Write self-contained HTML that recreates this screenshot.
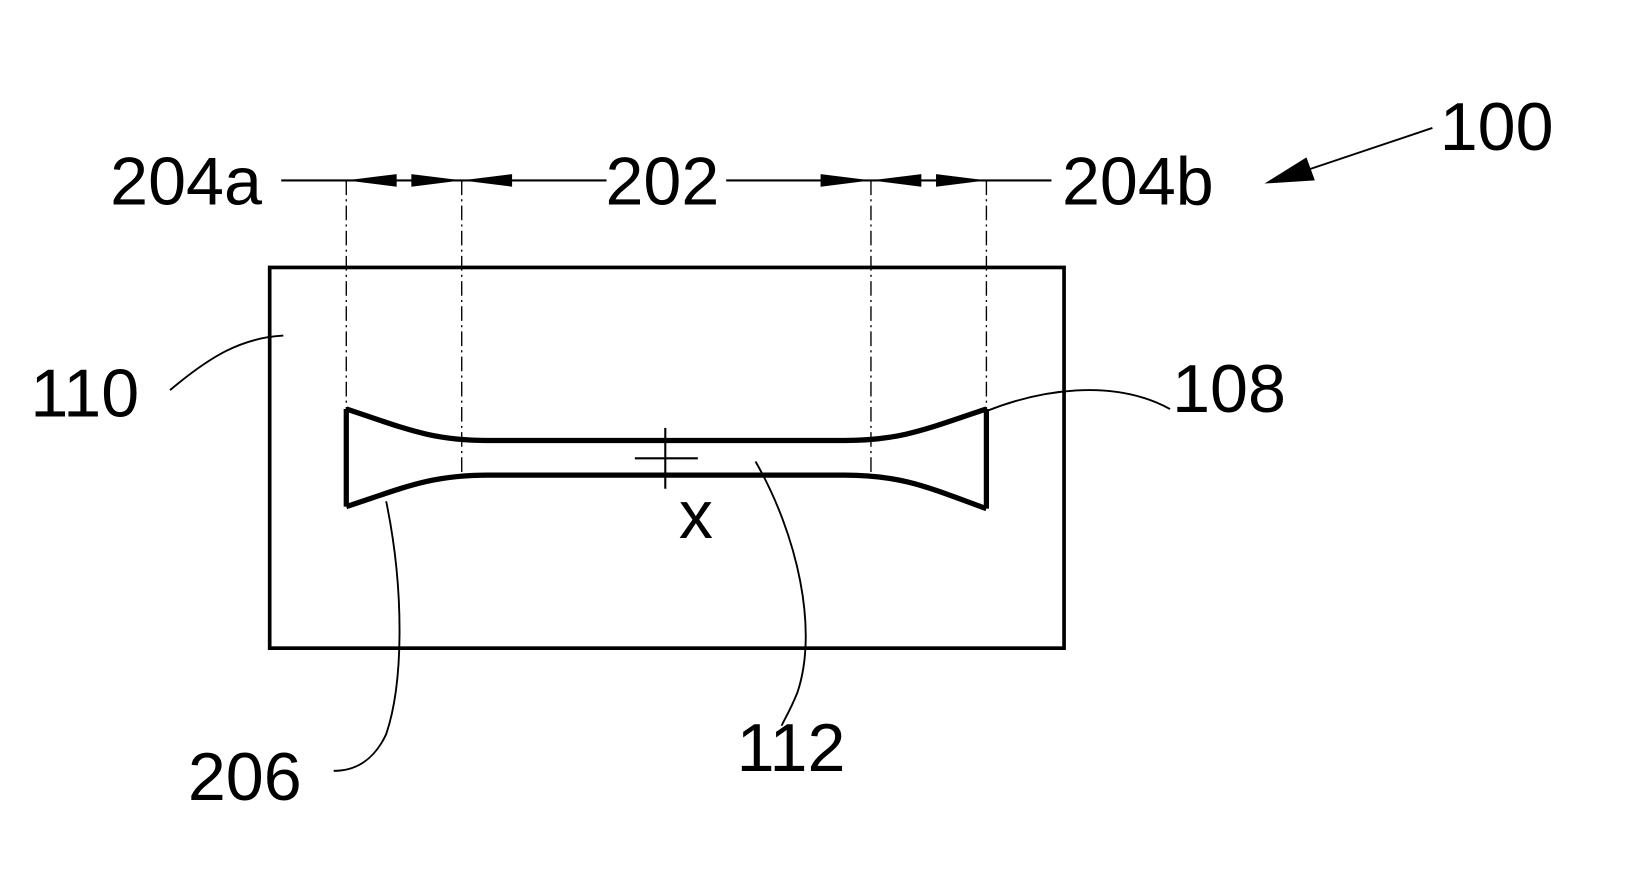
<!DOCTYPE html>
<html><head><style>html,body{margin:0;padding:0;background:#fff}svg{display:block}</style></head>
<body>
<svg width="1637" height="881" viewBox="0 0 1560 840" preserveAspectRatio="none" xmlns="http://www.w3.org/2000/svg">
<g fill="none" stroke="#000">
<rect x="257" y="255" width="757" height="363" stroke-width="3.5"/>
<line x1="268" y1="172" x2="578" y2="172" stroke-width="2"/>
<line x1="692" y1="172" x2="1002" y2="172" stroke-width="2"/>
<g stroke-width="1.3" stroke-dasharray="14,4,2,4">
<line x1="330" y1="172" x2="330" y2="390"/>
<line x1="440" y1="172" x2="440" y2="455"/>
<line x1="830" y1="172" x2="830" y2="455"/>
<line x1="940" y1="172" x2="940" y2="390"/>
</g>
<path d="M330 390 C385 408 410 420 465 420 L805 420 C860 420 885 408 940 390 M330 483 C385 465 410 453 465 453 L805 453 C860 453 885 465 940 485 M330 390 L330 483 M940 390 L940 485" stroke-width="5" stroke-linejoin="round"/>
<line x1="634" y1="408" x2="634" y2="466" stroke-width="2"/>
<line x1="605" y1="437" x2="665" y2="437" stroke-width="2"/>
<g stroke-width="1.8">
<path d="M162 372 C200 340 230 322 270 320"/>
<path d="M940 392 C990 372 1060 360 1115 390"/>
<path d="M368 478 C385 560 385 650 368 700 C355 728 335 735 318 735"/>
<path d="M720 440 C760 510 780 600 760 660 C752 680 745 690 745 692"/>
<line x1="1365" y1="122" x2="1240" y2="164"/>
</g>
</g>
<g fill="#000">
<polygon points="330,172 378,166 378,178"/>
<polygon points="440,172 392,166 392,178"/>
<polygon points="440,172 488,166 488,178"/>
<polygon points="830,172 782,166 782,178"/>
<polygon points="830,172 878,166 878,178"/>
<polygon points="940,172 892,166 892,178"/>
<polygon points="1205,175 1245,150 1253,172"/>
</g>
<g font-family="Liberation Sans, sans-serif" font-size="65" fill="#000">
<text x="105" y="195">204a</text>
<text x="577" y="195">202</text>
<text x="1012" y="195">204b</text>
<text x="1372" y="143">100</text>
<text x="29" y="397">110</text>
<text x="1117" y="393">108</text>
<text x="179" y="763">206</text>
<text x="702" y="735">112</text>
<text x="647" y="513">x</text>
</g>
</svg>
</body></html>
